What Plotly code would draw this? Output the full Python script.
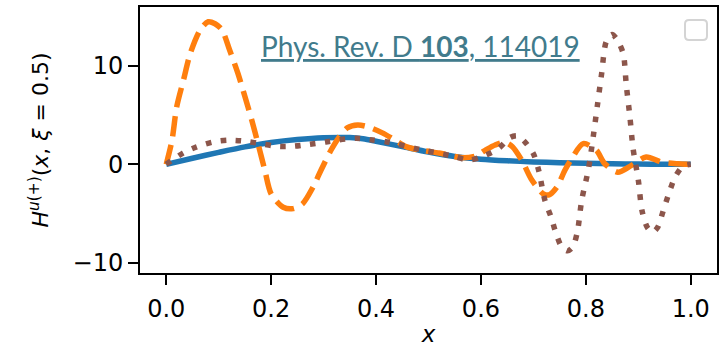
import plotly.graph_objects as go

# ---- data ----
x_blue = [0.0, 0.05, 0.1, 0.15, 0.2, 0.25, 0.3, 0.35, 0.375, 0.4, 0.45, 0.5, 0.55, 0.6, 0.65, 0.7, 0.75, 0.8, 0.85, 0.9, 0.95, 1.0]
y_blue = [0.0, 0.62, 1.22, 1.78, 2.22, 2.52, 2.7, 2.72, 2.6, 2.35, 1.8, 1.25, 0.8, 0.52, 0.36, 0.25, 0.16, 0.1, 0.06, 0.03, 0.01, 0.0]

x_orange = [0.0, 0.011, 0.02, 0.033, 0.046, 0.065, 0.08, 0.093, 0.106, 0.121, 0.137, 0.15, 0.163, 0.175,
            0.188, 0.2, 0.223, 0.242, 0.26, 0.28, 0.295, 0.314, 0.33, 0.345, 0.365, 0.385, 0.412, 0.435,
            0.457, 0.49, 0.52, 0.545, 0.564, 0.59, 0.61, 0.627, 0.646, 0.66, 0.678, 0.697, 0.719, 0.73,
            0.745, 0.76, 0.773, 0.795, 0.82, 0.836, 0.861, 0.887, 0.915, 0.944, 0.975, 1.0]
y_orange = [0.0, 2.45, 5.85, 8.6, 11.3, 13.7, 14.5, 14.3, 13.7, 11.6, 9.2, 6.9, 4.5, 2.1,
            -0.6, -3.0, -4.36, -4.5, -4.0, -2.3, -0.6, 1.43, 2.8, 3.7, 4.0, 3.8, 3.2, 2.5,
            1.8, 1.4, 1.15, 0.85, 0.68, 0.85, 1.5, 1.97, 2.24, 1.8, 0.4, -1.6, -3.0, -3.1,
            -2.3, -0.6, 0.57, 2.1, 1.43, 0.06, -0.8, -0.1, 0.75, 0.24, 0.06, 0.0]

x_brown = [0.0, 0.032, 0.058, 0.089, 0.118, 0.15, 0.18, 0.21, 0.242, 0.273, 0.304, 0.33, 0.362, 0.393,
           0.425, 0.482, 0.545, 0.577, 0.605, 0.634, 0.656, 0.67, 0.684, 0.7, 0.71, 0.722, 0.734, 0.743,
           0.754, 0.765, 0.775, 0.784, 0.792, 0.805, 0.814, 0.822, 0.83, 0.839, 0.85, 0.858, 0.871,
           0.877, 0.884, 0.89, 0.9, 0.907, 0.917, 0.927, 0.937, 0.947, 0.958, 0.97, 0.985, 1.0]
y_brown = [0.0, 1.15, 1.77, 2.27, 2.45, 2.35, 2.1, 1.84, 1.84, 2.04, 2.27, 2.5, 2.65, 2.48,
           2.24, 1.53, 0.85, 0.44, 0.85, 1.63, 2.75, 2.9, 2.27, 1.08, -0.6, -3.67, -5.4, -7.0,
           -8.4, -8.8, -8.4, -6.8, -3.67, -0.45, 2.8, 6.0, 9.2, 12.5, 13.2, 12.8, 11.3,
           8.1, 4.8, 1.6, -1.6, -4.7, -6.4, -6.9, -6.4, -4.8, -3.0, -1.3, -0.2, 0.0]

x_ticks = [0.0, 0.2, 0.4, 0.6, 0.8, 1.0]
y_ticks = [-10, 0, 10]

fig = go.Figure()
fig.add_trace(go.Scatter(x=x_blue, y=y_blue, mode="lines",
                         line=dict(color="#1f77b4", width=5.5, shape="spline", smoothing=0.8)))
fig.add_trace(go.Scatter(x=x_orange, y=y_orange, mode="lines",
                         line=dict(color="#ff7f0e", width=5.5, dash="20px,9px", shape="spline", smoothing=0.8)))
fig.add_trace(go.Scatter(x=x_brown, y=y_brown, mode="lines",
                         line=dict(color="#8c564b", width=5.5, dash="5.5px,9.5px", shape="spline", smoothing=0.8)))

L, R, T, B = 140, 3, 7, 74
W, H = 720, 347
pw, ph = W - L - R, H - T - B

def px(xp):
    return (xp - L) / pw

def py(yp):
    return (H - B - yp) / ph

# empty legend box (rounded square)
x0, x1, y0, y1, r = 685, 707, 20, 40, 4
path = (f"M {px(x0 + r)} {py(y0)} L {px(x1 - r)} {py(y0)} Q {px(x1)} {py(y0)} {px(x1)} {py(y0 + r)} "
        f"L {px(x1)} {py(y1 - r)} Q {px(x1)} {py(y1)} {px(x1 - r)} {py(y1)} "
        f"L {px(x0 + r)} {py(y1)} Q {px(x0)} {py(y1)} {px(x0)} {py(y1 - r)} "
        f"L {px(x0)} {py(y0 + r)} Q {px(x0)} {py(y0)} {px(x0 + r)} {py(y0)} Z")

fig.add_shape(type="path", path=path, xref="paper", yref="paper",
              line=dict(color="#d4d4d4", width=2), fillcolor="rgba(0,0,0,0)")

fig.add_annotation(text='<span style="text-decoration:underline">Phys. Rev. D <b>103</b>, 114019</span>',
                   xref="paper", yref="paper", x=px(259), y=py(46), xanchor="left", yanchor="middle",
                   showarrow=False, font=dict(family="Lato", size=28, color="#417b8c"))

axis_common = dict(showline=True, linecolor="black", linewidth=2, mirror=True,
                   ticks="outside", ticklen=10, tickwidth=2, tickcolor="black",
                   showgrid=False, zeroline=False,
                   tickfont=dict(family="DejaVu Sans", size=24, color="black"))

fig.update_xaxes(range=[-0.05, 1.05], tickvals=x_ticks, ticktext=[f"{v:.1f}" for v in x_ticks],
                 ticklabelstandoff=3,
                 title=dict(text="<i>x</i>", font=dict(family="DejaVu Sans", size=23, color="black"), standoff=8),
                 **axis_common)
fig.update_yaxes(range=[-11.05, 16.0], tickvals=y_ticks, ticktext=["\u221210", "0", "10"],
                 title=dict(text="<i>H</i><sup><i>u</i>(+)</sup>(<i>x</i>, <i>ξ</i> = 0.5)",
                            font=dict(family="DejaVu Sans", size=22, color="black"), standoff=18),
                 **axis_common)

fig.update_layout(width=W, height=H, margin=dict(l=L, r=R, t=T, b=B, autoexpand=False),
                  paper_bgcolor="white", plot_bgcolor="white", showlegend=False)

fig.write_html("out.html")
